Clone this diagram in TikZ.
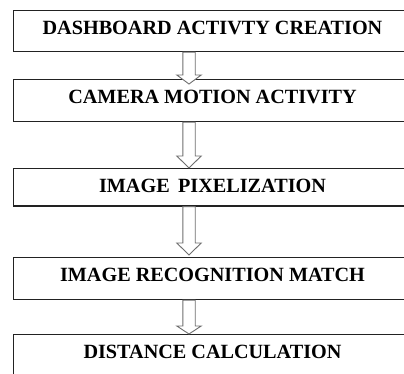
\documentclass[tikz,border=0pt]{standalone}
\usepackage{fontspec}
\setmainfont{Liberation Serif}
\usetikzlibrary{calc}
\definecolor{boxline}{HTML}{222222}
\definecolor{arrowline}{HTML}{6E6E6E}
\tikzset{
  stepbox/.style={draw=boxline, line width=1.1pt, fill=white, anchor=north,
    minimum width=398pt, inner sep=0pt, text height=23.5pt,
    font=\fontsize{20.2}{22}\selectfont\bfseries},
  hollowarrow/.style={draw=arrowline, line width=0.9pt, fill=white, line join=miter}
}
% #1 from node, #2 to node, #3 tip shift below the target's top, #4 head length
\newcommand{\flowarrow}[4]{%
  \draw[hollowarrow] let \p1=(#1.south -| ax), \p2=(#2.north -| ax) in
    (\x1-6.2pt,\y1) -- (\x1-6.2pt,\y2-#3+#4) -- (\x1-12.2pt,\y2-#3+#4)
    -- (\x1,\y2-#3) -- (\x1+12.2pt,\y2-#3+#4) -- (\x1+6.2pt,\y2-#3+#4)
    -- (\x1+6.2pt,\y1) -- cycle;}
\begin{document}
\begin{tikzpicture}[x=1pt,y=-1pt]
  \useasboundingbox (0,0) rectangle (404,374);
  \clip (0,0) rectangle (404,374);
  \coordinate (ax) at (189,0);
  \node[stepbox, text depth=17.5pt] (b1) at (212.5,10)  {DASHBOARD ACTIVTY CREATION};
  \node[stepbox, text depth=18.5pt] (b2) at (212.5,79)  {CAMERA MOTION ACTIVITY};
  \node[stepbox, text depth=14pt]   (b3) at (212.5,168) {IMAGE\, PIXELIZATION};
  \node[stepbox, text depth=18.5pt] (b4) at (212.5,257) {IMAGE RECOGNITION MATCH};
  \node[stepbox, text depth=18.5pt] (b5) at (212.5,334) {DISTANCE CALCULATION};
  \flowarrow{b1}{b2}{5pt}{9pt}
  \flowarrow{b2}{b3}{0pt}{12pt}
  \flowarrow{b3}{b4}{-2pt}{12pt}
  \flowarrow{b4}{b5}{0pt}{8pt}
\end{tikzpicture}
\end{document}
